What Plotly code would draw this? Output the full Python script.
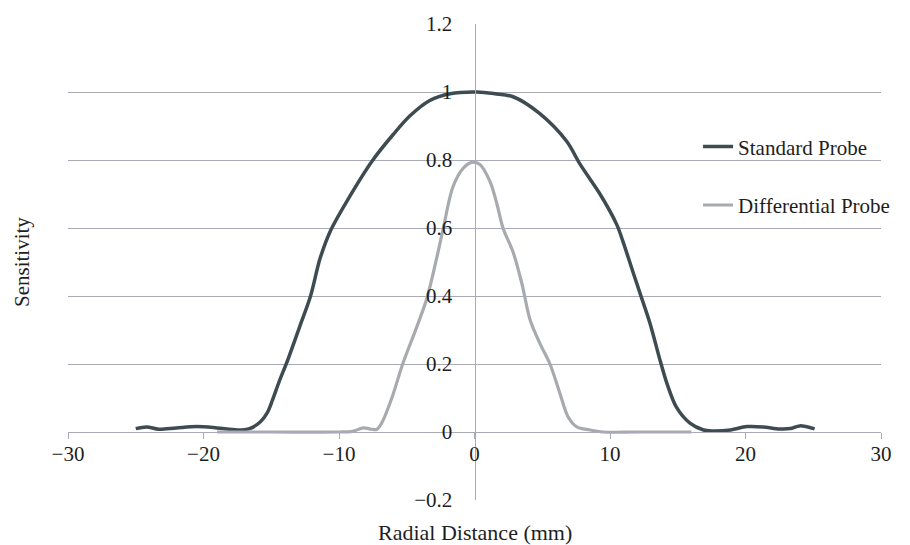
import plotly.graph_objects as go

# ---- data ----
std_x = [-25, -24.2, -23.3, -22, -20.5, -19, -17.5, -16.6, -15.8, -15.3, -14.9, -14.4,
         -13.8, -12.9, -12.1, -11.4, -10.65, -9.4, -7.5, -6.0, -4.76, -3.3, -1.8, 0.2,
         1.5, 2.85, 4.8, 6.8, 7.8, 9.26, 10.5, 10.96, 11.7, 12.2, 12.95, 13.7, 14.2,
         14.9, 15.9, 16.9, 17.5, 18.9, 20.1, 21.3, 22.5, 23.3, 24, 25.1]
std_y = [0.01, 0.015, 0.008, 0.012, 0.016, 0.012, 0.006, 0.01, 0.03, 0.056, 0.095, 0.15,
         0.21, 0.31, 0.40, 0.51, 0.59, 0.68, 0.80, 0.875, 0.93, 0.975, 0.995, 1.0,
         0.995, 0.986, 0.937, 0.855, 0.787, 0.70, 0.61, 0.56, 0.47, 0.41, 0.32, 0.21, 0.143,
         0.073, 0.026, 0.006, 0.003, 0.006, 0.016, 0.015, 0.009, 0.01, 0.018, 0.009]

diff_x = [-19, -15, -10, -9, -8.2, -7.6, -7.2, -6.8, -6.1, -5.3, -4.25, -3.5, -2.8, -2.3,
          -1.6, -0.85, -0.2, 0.4, 1.14, 1.66, 2.1, 2.84, 3.5, 4.1, 4.83, 5.57, 6.3, 6.9,
          7.55, 8.5, 9.5, 12, 16]
diff_y = [0, 0, 0, 0.002, 0.012, 0.008, 0.008, 0.03, 0.10, 0.20, 0.31, 0.395, 0.51, 0.60,
          0.72, 0.775, 0.793, 0.787, 0.737, 0.67, 0.60, 0.53, 0.436, 0.33, 0.26, 0.20, 0.114, 0.045,
          0.015, 0.006, 0, 0, 0]

x_ticks = [-30, -20, -10, 0, 10, 20, 30]
x_ticktext = ["\u221230", "\u221220", "\u221210", "0", "10", "20", "30"]
y_ticks = [-0.2, 0, 0.2, 0.4, 0.6, 0.8, 1.0, 1.2]
y_ticktext = ["\u22120.2", "0", "0.2", "0.4", "0.6", "0.8", "1", "1.2"]

FONT = "Liberation Serif"
GRID = "#A8AAB8"
STD_C = "#3E4B51"
DIFF_C = "#A7AAAE"
TXT = "#1e1e1e"
FS = 21

fig = go.Figure()
fig.add_trace(go.Scatter(x=std_x, y=std_y, mode="lines", name="Standard Probe",
                         line=dict(color=STD_C, width=3.5, shape="spline", smoothing=0.9),
                         legend="legend", showlegend=True))
fig.add_trace(go.Scatter(x=diff_x, y=diff_y, mode="lines", name="Differential Probe",
                         line=dict(color=DIFF_C, width=3.2, shape="spline", smoothing=0.9),
                         legend="legend2", showlegend=True))

fig.update_layout(
    width=910, height=545,
    margin=dict(l=68, r=29, t=22, b=45),
    paper_bgcolor="white", plot_bgcolor="white",
    showlegend=True,
    font=dict(family=FONT, size=FS, color=TXT),
    xaxis=dict(range=[-30, 30], domain=[0, 1], anchor="free", position=0.2 / 1.4,
               tickvals=x_ticks, ticktext=x_ticktext, showgrid=False, zeroline=False,
               showline=True, linecolor=GRID, linewidth=1, ticks="outside", ticklen=6,
               tickcolor=GRID, ticklabelstandoff=-3,
               tickfont=dict(family=FONT, size=FS, color=TXT)),
    yaxis=dict(range=[-0.2, 1.2], domain=[0, 1], anchor="free", position=0.5,
               tickvals=y_ticks, ticktext=y_ticktext, showgrid=True, gridcolor=GRID,
               gridwidth=1, zeroline=False, showline=True, linecolor=GRID, linewidth=1,
               ticks="", ticklabelstandoff=18,
               tickfont=dict(family=FONT, size=FS, color=TXT)),
    legend=dict(x=0.775, y=0.742, xanchor="left", yanchor="middle", bgcolor="rgba(0,0,0,0)",
                font=dict(family=FONT, size=FS, color=TXT)),
    legend2=dict(x=0.775, y=0.619, xanchor="left", yanchor="middle", bgcolor="rgba(0,0,0,0)",
                 font=dict(family=FONT, size=FS, color=TXT)),
    annotations=[
        dict(text="Sensitivity", x=(22 - 68) / 813, y=0.5, xref="paper", yref="paper",
             showarrow=False, xanchor="center", yanchor="middle", textangle=-90,
             font=dict(family=FONT, size=FS, color=TXT)),
        dict(text="Radial Distance (mm)", x=0.5, y=-0.068, xref="paper", yref="paper",
             showarrow=False, xanchor="center", yanchor="middle",
             font=dict(family=FONT, size=22, color=TXT)),
    ],
)

fig.write_html("out.html")
